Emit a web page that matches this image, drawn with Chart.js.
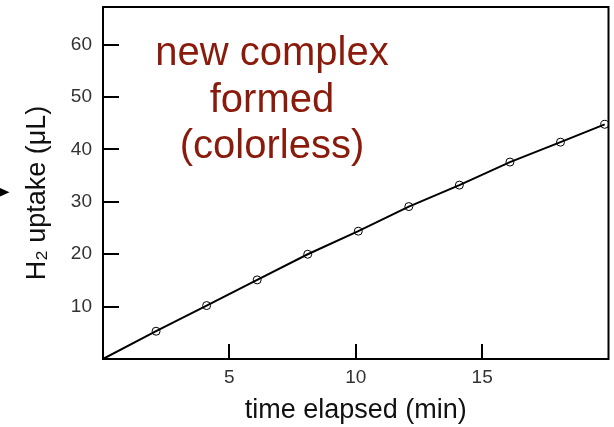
<!DOCTYPE html>
<html>
<head>
<meta charset="utf-8">
<script src="https://cdn.jsdelivr.net/npm/chart.js@4"></script>
<style>
  html, body { margin: 0; padding: 0; background: #fff; }
  #wrap { width: 614px; height: 427px; position: relative; }
</style>
</head>
<body>
<div id="wrap"><canvas id="c" width="614" height="427"></canvas></div>
<script>
// ---- data ----
const timeMin   = [0, 2.1, 4.1, 6.1, 8.1, 10.1, 12.1, 14.1, 16.1, 18.1, 19.85];
const uptakeUL  = [0, 5.3, 10.2, 15.1, 20.0, 24.4, 29.1, 33.2, 37.6, 41.4, 44.8];
const xTickValues = [5, 10, 15];
const yTickValues = [10, 20, 30, 40, 50, 60];
const xTitle = 'time elapsed (min)';
const yTitle = 'H\u2082 uptake (\u03bcL)';
const noteLines = ['new complex', 'formed', '(colorless)'];

const FONT = '"Liberation Sans", Arial, Helvetica, sans-serif';

const points = timeMin.map((t, i) => ({ x: t, y: uptakeUL[i] }));
const radii = timeMin.map((t, i) => (i === 0 ? 0 : 4));

const framePlugin = {
  id: 'frame',
  afterDraw(chart) {
    const { ctx, chartArea: a, scales } = chart;
    ctx.save();
    ctx.strokeStyle = '#000';
    ctx.lineWidth = 2;
    ctx.strokeRect(a.left, a.top, a.right - a.left, a.bottom - a.top);
    // inward tick marks
    ctx.beginPath();
    yTickValues.forEach(v => {
      const y = Math.round(scales.y.getPixelForValue(v));
      ctx.moveTo(a.left, y);
      ctx.lineTo(a.left + 16, y);
    });
    xTickValues.forEach(v => {
      const x = Math.round(scales.x.getPixelForValue(v));
      ctx.moveTo(x, a.bottom);
      ctx.lineTo(x, a.bottom - 15);
    });
    ctx.stroke();
    // small pointer at the far left
    ctx.fillStyle = '#000';
    ctx.beginPath();
    ctx.moveTo(0, 188);
    ctx.lineTo(9.5, 192.3);
    ctx.lineTo(0, 196.5);
    ctx.closePath();
    ctx.fill();
    // y axis title (placed slightly below the axis centre, as in the reference)
    ctx.save();
    ctx.translate(37.2, 193);
    ctx.rotate(-Math.PI / 2);
    ctx.fillStyle = '#111';
    ctx.font = '27px ' + FONT;
    ctx.textAlign = 'center';
    ctx.textBaseline = 'middle';
    ctx.fillText(yTitle, 0, 0);
    ctx.restore();
    // annotation
    ctx.fillStyle = '#8a1b0c';
    ctx.font = '40px ' + FONT;
    ctx.textAlign = 'center';
    ctx.textBaseline = 'alphabetic';
    const baselines = [65, 111.5, 158];
    noteLines.forEach((s, i) => ctx.fillText(s, 272, baselines[i]));
    ctx.restore();
  }
};

new Chart(document.getElementById('c'), {
  type: 'line',
  data: {
    datasets: [{
      data: points,
      borderColor: '#000',
      borderWidth: 2,
      tension: 0,
      pointRadius: radii,
      pointHoverRadius: radii,
      pointBorderWidth: 1,
      pointBorderColor: '#000',
      pointBackgroundColor: 'rgba(0,0,0,0)',
      fill: false
    }]
  },
  options: {
    responsive: false,
    animation: false,
    events: [],
    layout: { padding: { left: 0, top: 7, right: 5.5, bottom: 0 } },
    plugins: { legend: { display: false }, tooltip: { enabled: false } },
    scales: {
      x: {
        type: 'linear',
        min: 0, max: 20,
        grid: { display: false, drawTicks: false },
        border: { display: false },
        afterFit(s) { s.height = 68; s.paddingLeft = 0; s.paddingRight = 0; },
        ticks: {
          stepSize: 5,
          padding: 7,
          color: '#333',
          font: { family: FONT, size: 19 },
          callback: v => (xTickValues.includes(v) ? String(v) : '')
        },
        title: {
          display: true, text: xTitle, color: '#111',
          font: { family: FONT, size: 27 },
          padding: { top: 0, bottom: 0.5 }
        }
      },
      y: {
        type: 'linear',
        min: 0, max: 67.2,
        grid: { display: false, drawTicks: false },
        border: { display: false },
        afterFit(s) { s.width = 103; s.paddingTop = 0; s.paddingBottom = 0; },
        ticks: {
          stepSize: 10,
          padding: 11,
          color: '#333',
          font: { family: FONT, size: 19 },
          callback: v => (yTickValues.includes(v) ? String(v) : '')
        },
        title: { display: false, text: yTitle }
      }
    }
  },
  plugins: [framePlugin]
});
</script>
</body>
</html>
